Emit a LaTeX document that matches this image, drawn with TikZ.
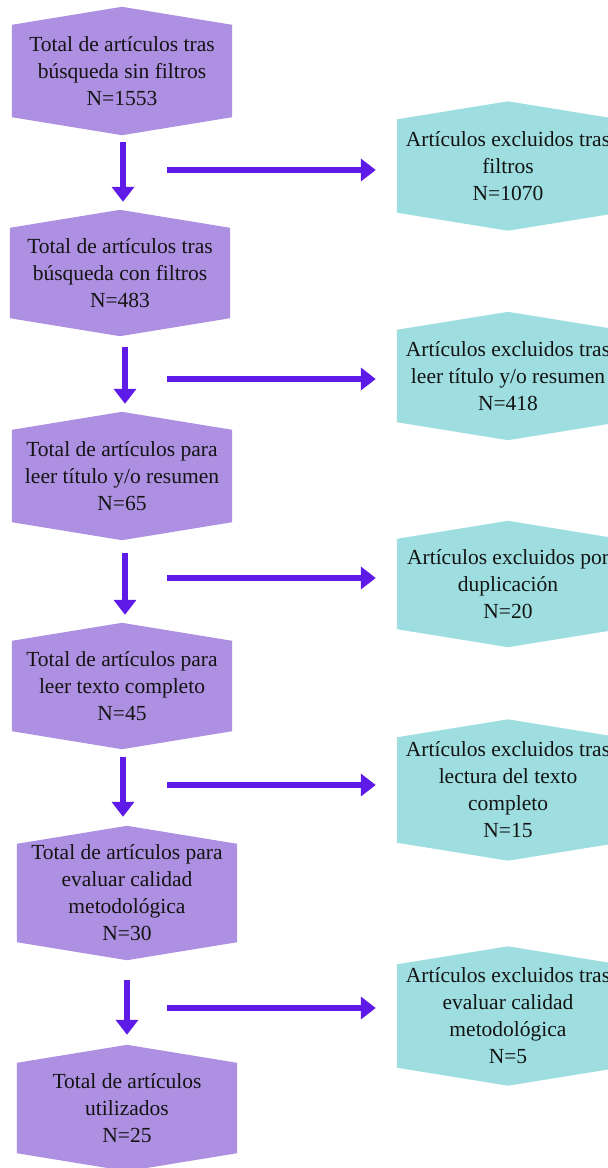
\documentclass[tikz,border=0pt]{standalone}
\usepackage{fontspec}
\setmainfont{Liberation Serif}
\newfontfamily\tnr{Liberation Serif}
\usetikzlibrary{arrows.meta,calc,backgrounds}
\definecolor{leftfill}{RGB}{173,144,225}
\definecolor{rightfill}{RGB}{158,222,224}
\definecolor{arrowcol}{RGB}{94,27,232}
\definecolor{txt}{RGB}{20,20,20}
\tikzset{
  x=1pt,y=1pt,
  lbox/.style={inner sep=0pt, minimum width=220pt, align=center, text=txt,
    font=\tnr\fontsize{21.5pt}{27pt}\selectfont},
  rbox/.style={lbox, minimum width=222pt},
  arr/.style={draw=arrowcol, line width=5.5pt, line join=round,
    -{Triangle[width=22pt,length=15pt]}},
}
\newcommand\hexfill[2]{%
  \fill[#2] (#1.north west) -- ($(#1.north)+(0,18)$) -- (#1.north east)
    -- (#1.south east) -- ($(#1.south)+(0,-18)$) -- (#1.south west) -- cycle;}
\begin{document}
\begin{tikzpicture}
\useasboundingbox (0,0) rectangle (608,-1168);
\clip (0,0) rectangle (608,-1168);
% left column
\node[lbox, minimum height=92pt] (L1) at (122,-71) {Total de artículos tras\\búsqueda sin filtros\\N=1553};
\node[lbox, minimum height=90pt] (L2) at (120,-273) {Total de artículos tras\\búsqueda con filtros\\N=483};
\node[lbox, minimum height=92pt] (L3) at (122,-476) {Total de artículos para\\leer título y/o resumen\\N=65};
\node[lbox, minimum height=90pt] (L4) at (122,-686) {Total de artículos para\\leer texto completo\\N=45};
\node[lbox, minimum height=98pt] (L5) at (127,-893) {Total de artículos para\\evaluar calidad\\metodológica\\N=30};
\node[lbox, minimum height=90pt] (L6) at (127,-1108) {Total de artículos\\utilizados\\N=25};
% right column
\node[rbox, minimum height=93pt] (R1) at (508,-166) {Artículos excluidos tras\\filtros\\N=1070};
\node[rbox, minimum height=92pt] (R2) at (508,-376) {Artículos excluidos tras\\leer título y/o resumen\\N=418};
\node[rbox, minimum height=90pt] (R3) at (508,-584) {Artículos excluidos por\\duplicación\\N=20};
\node[rbox, minimum height=105pt] (R4) at (508,-790) {Artículos excluidos tras\\lectura del texto\\completo\\N=15};
\node[rbox, minimum height=103pt] (R5) at (508,-1016) {Artículos excluidos tras\\evaluar calidad\\metodológica\\N=5};
\begin{pgfonlayer}{background}
  \hexfill{L1}{leftfill}\hexfill{L2}{leftfill}\hexfill{L3}{leftfill}
  \hexfill{L4}{leftfill}\hexfill{L5}{leftfill}\hexfill{L6}{leftfill}
  \hexfill{R1}{rightfill}\hexfill{R2}{rightfill}\hexfill{R3}{rightfill}
  \hexfill{R4}{rightfill}\hexfill{R5}{rightfill}
\end{pgfonlayer}
% down arrows
\draw[arr] ([xshift=1pt,yshift=-25pt]L1.south) -- ([xshift=3pt,yshift=26pt]L2.north);
\draw[arr] ([xshift=5pt,yshift=-29pt]L2.south) -- ([xshift=3pt,yshift=26pt]L3.north);
\draw[arr] ([xshift=3pt,yshift=-31pt]L3.south) -- ([xshift=3pt,yshift=26pt]L4.north);
\draw[arr] ([xshift=1pt,yshift=-26pt]L4.south) -- ([xshift=-4pt,yshift=27pt]L5.north);
\draw[arr] ([xshift=0pt,yshift=-38pt]L5.south) -- ([xshift=0pt,yshift=28pt]L6.north);
% side arrows
\coordinate (h1) at (167,-170);
\coordinate (h2) at (167,-379);
\coordinate (h3) at (167,-578);
\coordinate (h4) at (167,-785);
\coordinate (h5) at (167,-1008);
\draw[arr, shorten >=21pt] (h1) -- (R1.west |- h1);
\draw[arr, shorten >=21pt] (h2) -- (R2.west |- h2);
\draw[arr, shorten >=21pt] (h3) -- (R3.west |- h3);
\draw[arr, shorten >=21pt] (h4) -- (R4.west |- h4);
\draw[arr, shorten >=21pt] (h5) -- (R5.west |- h5);
\end{tikzpicture}
\end{document}
